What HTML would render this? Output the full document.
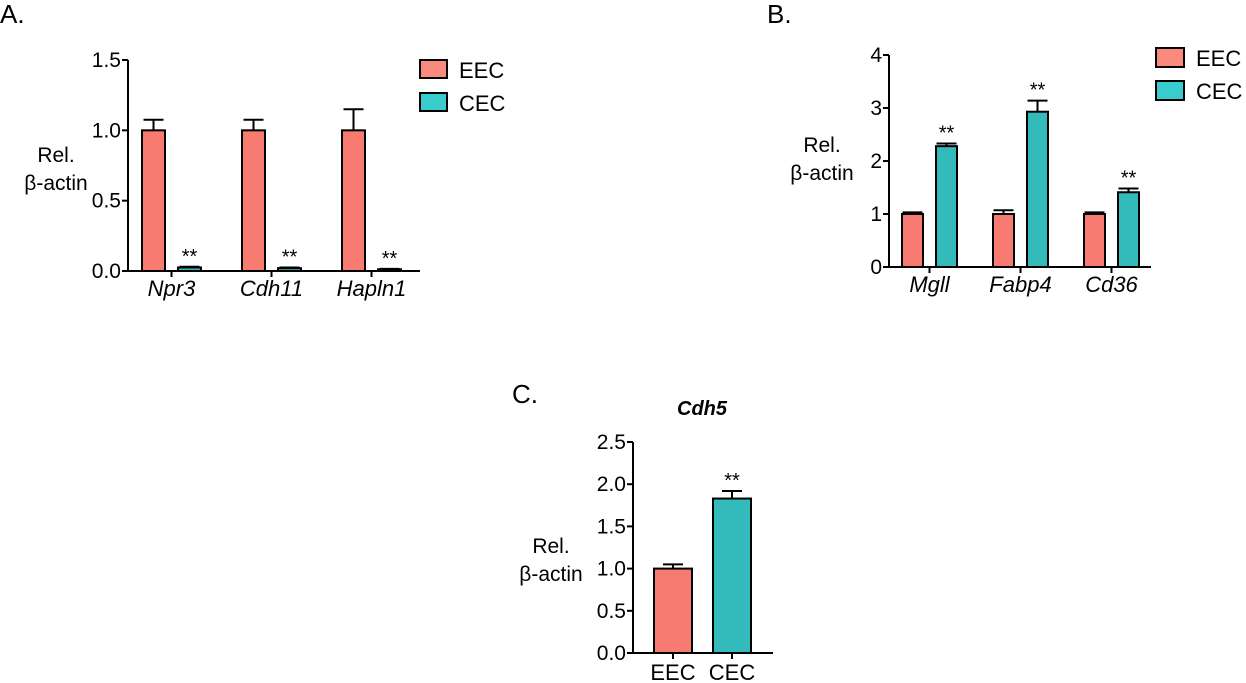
<!DOCTYPE html>
<html><head><meta charset="utf-8"><style>
html,body{margin:0;padding:0;background:#fff;width:1246px;height:683px;overflow:hidden}
svg{display:block;font-family:"Liberation Sans",Arial,sans-serif}
</style></head><body>
<svg id="fig" width="1246" height="683" viewBox="0 0 1246 683">
<text x="0" y="23" font-size="26">A.</text>
<text x="767" y="23" font-size="26">B.</text>
<text x="512" y="403" font-size="26">C.</text>
<text x="702" y="415" font-size="20" font-weight="bold" font-style="italic" text-anchor="middle">Cdh5</text>
<g>
<rect x="420" y="60" width="27" height="18" fill="#fa8a7e" stroke="#000" stroke-width="2"/>
<text x="459" y="78" font-size="22">EEC</text>
<rect x="420" y="93" width="27" height="18" fill="#38cccc" stroke="#000" stroke-width="2"/>
<text x="459" y="111" font-size="22">CEC</text>
</g>
<g>
<rect x="1156" y="48" width="28" height="19" fill="#fa8a7e" stroke="#000" stroke-width="2"/>
<text x="1196" y="66" font-size="22">EEC</text>
<rect x="1156" y="81" width="28" height="19" fill="#38cccc" stroke="#000" stroke-width="2"/>
<text x="1196" y="99" font-size="22">CEC</text>
</g>
</svg>
<script>
// Panel A data
const aGenes = ["Npr3","Cdh11","Hapln1"];
const aEEC = [1.0, 1.0, 1.0];
const aEECerr = [0.075, 0.075, 0.15];
const aCEC = [0.025, 0.02, 0.012];
const aCECerr = [0.005, 0.005, 0.003];
const aTicks = ["0.0","0.5","1.0","1.5"];
// Panel B data
const bGenes = ["Mgll","Fabp4","Cd36"];
const bEEC = [1.0, 1.0, 1.0];
const bEECerr = [0.03, 0.07, 0.03];
const bCEC = [2.28, 2.93, 1.41];
const bCECerr = [0.05, 0.21, 0.07];
const bTicks = ["0","1","2","3","4"];
// Panel C data
const cGroups = ["EEC","CEC"];
const cVals = [1.0, 1.83];
const cErr = [0.05, 0.09];
const cTicks = ["0.0","0.5","1.0","1.5","2.0","2.5"];

const NS="http://www.w3.org/2000/svg", svg=document.getElementById('fig');
const EEC="#f77b70", CEC="#33bbbb";
function mk(tag,attrs,parent){const e=document.createElementNS(NS,tag);for(const k in attrs)e.setAttribute(k,attrs[k]);(parent||svg).appendChild(e);return e;}

function axisY(g,ax,y0,y1,ticks,max){
  const sc=v=>y0-(v/max)*(y0-y1);
  const l=mk('line',{x1:ax,y1:y1,x2:ax,y2:y0+1,stroke:'#000','stroke-width':2},g);
  
  
  ticks.forEach(t=>{const y=sc(parseFloat(t));
    const tk=mk('line',{x1:ax-6,y1:y,x2:ax,y2:y,stroke:'#000','stroke-width':2},g);
    
    
    const tx=mk('text',{x:ax-7,y:y+7,'font-size':21,'text-anchor':'end'},g);tx.textContent=t;
    
    
  });
  return sc;
}
function bar(g,x,w,v,err,sc,color,y0,star){
  const top=sc(v);
  const e=mk('line',{x1:x+w/2,y1:sc(v+err),x2:x+w/2,y2:top,stroke:'#000','stroke-width':2},g);
  
  
  const c=mk('line',{x1:x+w/2-10,y1:sc(v+err),x2:x+w/2+10,y2:sc(v+err),stroke:'#000','stroke-width':2},g);
  
  
  const r=mk('rect',{x:x,y:top,width:w,height:Math.max(y0-top,1),fill:color,stroke:'#000','stroke-width':2},g);
  
  
  if(star){const s=mk('text',{x:x+w/2,y:sc(v+err)-4,'font-size':20,'text-anchor':'middle'},g);s.textContent='**';
    
    }
}
function ylab(g,x,y){
  const t1=mk('text',{x:x,y:y,'font-size':21,'text-anchor':'middle'},g);t1.textContent='Rel.';
  
  
  const t2=mk('text',{x:x,y:y+28,'font-size':21,'text-anchor':'middle'},g);t2.textContent='β-actin';
  
  
}
function groupChart(name,ax,xEnd,y0,y1,max,ticks,genes,eec,eecE,cec,cecE,start,step,w,gap,lx,ly){
  const g=mk('g',{});
  
  
  const sc=axisY(g,ax,y0,y1,ticks,max);
  const xl=mk('line',{x1:ax-1,y1:y0,x2:xEnd,y2:y0,stroke:'#000','stroke-width':2},g);
  
  
  genes.forEach((gn,i)=>{
    const x=start+i*step;
    bar(g,x,w,eec[i],eecE[i],sc,EEC,y0,false);
    bar(g,x+w+gap,w,cec[i],cecE[i],sc,CEC,y0,true);
    const cx=x+w+gap/2;
    const tk=mk('line',{x1:cx,y1:y0,x2:cx,y2:y0+6,stroke:'#000','stroke-width':2},g);
    
    
    const t=mk('text',{x:cx,y:y0+25,'font-size':22,'font-style':'italic','text-anchor':'middle'},g);t.textContent=gn;
    
    
  });
  ylab(g,lx,ly);
}
groupChart('chart-a',128,420,271,60,1.5,aTicks,aGenes,aEEC,aEECerr,aCEC,aCECerr,142,100,23,13,56,162);
groupChart('chart-b',889,1151,267,55,4,bTicks,bGenes,bEEC,bEECerr,bCEC,bCECerr,902,91,21,13,822,152);

// Panel C
(function(){
  const g=mk('g',{});
  
  
  const y0=653,sc=axisY(g,633,y0,442,cTicks,2.5);
  const xl=mk('line',{x1:632,y1:y0,x2:773,y2:y0,stroke:'#000','stroke-width':2},g);
  
  
  const cols=[EEC,CEC];
  cGroups.forEach((gn,i)=>{
    const x=654+i*59,w=38;
    bar(g,x,w,cVals[i],cErr[i],sc,cols[i],y0,i===1);
    const tk=mk('line',{x1:x+w/2,y1:y0,x2:x+w/2,y2:y0+6,stroke:'#000','stroke-width':2},g);
    
    
    const t=mk('text',{x:x+w/2,y:y0+27,'font-size':22,'text-anchor':'middle'},g);t.textContent=gn;
    
    
  });
  ylab(g,551,553);
})();
</script>
</body></html>
